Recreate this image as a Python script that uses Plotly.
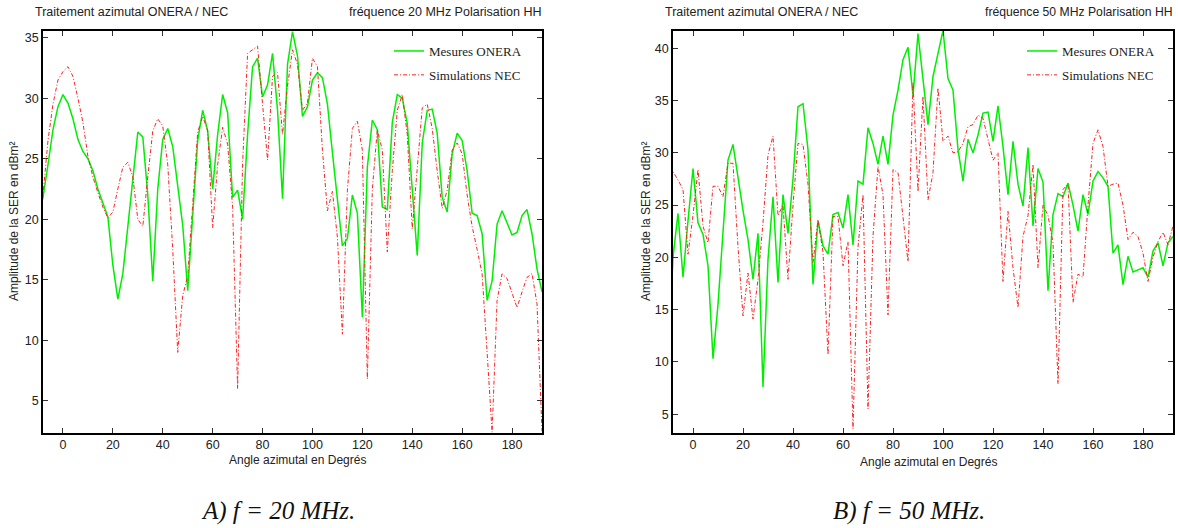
import plotly.graph_objects as go

# ---------------- data ----------------
ang_20 = list(range(-10, 194, 2))

# 20 MHz
onera_20 = [20.0, 21.8, 24.5, 27.4, 29.3, 30.3, 29.6, 28.3, 26.6, 25.6,
            25.0, 24.0, 22.5, 21.3, 20.2, 16.2, 13.4, 15.5, 19.5, 23.5,
            27.2, 26.8, 22.0, 14.9, 22.5, 26.6, 27.5, 26.0, 22.6, 19.5,
            14.1, 20.5, 26.5, 29.0, 27.3, 22.5, 27.0, 30.3, 28.8, 21.8,
            22.4, 20.0, 27.0, 32.6, 33.3, 30.1, 31.1, 33.7, 29.0, 21.7,
            32.8, 35.5, 33.5, 28.5, 29.3, 31.5, 32.1, 31.7, 29.5, 25.5,
            21.5, 17.8, 18.4, 22.0, 20.5, 11.9, 24.3, 28.2, 27.4, 21.0,
            20.8, 28.0, 30.3, 30.0, 27.9, 22.5, 17.0, 26.3, 29.0, 29.1,
            27.1, 21.8, 20.6, 25.4, 27.1, 26.5, 24.0, 20.5, 20.3, 18.8,
            13.3, 14.9, 19.6, 20.7, 19.7, 18.7, 18.9, 20.3, 20.8, 18.8,
            15.9, 14.0]
nec_20 = [19.5, 22.0, 26.5, 29.5, 31.5, 32.2, 32.6, 31.8, 30.0, 28.0,
          25.2, 23.5, 22.2, 21.0, 20.1, 20.6, 22.5, 24.3, 24.7, 23.5,
          20.0, 19.4, 23.5, 27.3, 28.3, 27.7, 24.5, 17.5, 9.0, 13.7,
          15.3, 21.5, 27.2, 28.5, 27.3, 19.3, 24.5, 27.6, 26.2, 21.0,
          6.0, 24.6, 33.7, 34.0, 34.3, 29.5, 24.9, 31.8, 32.1, 27.0,
          31.0, 34.0, 32.8, 29.0, 29.6, 33.3, 32.6, 25.7, 20.7, 22.3,
          18.5, 10.5, 22.4, 27.5, 28.1, 25.7, 6.8, 22.5, 27.4, 25.7,
          17.3, 24.0, 29.0, 30.3, 27.0, 19.2, 24.3, 29.2, 29.5, 27.5,
          24.0, 20.9, 22.4, 25.7, 26.3, 25.4, 22.0, 19.4, 17.5, 15.5,
          9.0, 2.4, 13.3, 15.5, 15.1, 13.8, 12.7, 14.0, 15.2, 15.5,
          13.0, 2.5]

# 50 MHz
onera_50 = [9.9, 20.0, 24.2, 18.1, 23.5, 28.5, 23.3, 22.2, 19.2, 10.3,
            15.5, 22.0, 29.3, 30.8, 27.5, 24.5, 21.7, 17.9, 22.3, 7.6,
            19.8, 25.8, 17.6, 26.0, 22.3, 27.5, 34.4, 34.7, 30.3, 17.4,
            23.5, 21.1, 20.3, 24.1, 24.3, 22.8, 26.0, 21.2, 27.3, 27.0,
            32.4, 30.9, 28.9, 31.6, 28.9, 33.6, 36.0, 38.9, 40.1, 35.5,
            41.4, 36.7, 32.7, 37.3, 39.5, 41.7, 37.1, 36.0, 30.3, 27.3,
            31.3, 30.0, 31.7, 33.8, 33.9, 31.1, 34.5, 30.6, 26.0, 31.1,
            27.0, 24.9, 30.5, 23.0, 28.5, 27.2, 16.8, 24.1, 26.1, 25.8,
            27.1, 25.0, 22.5, 26.0, 24.1, 27.3, 28.2, 27.6, 26.8, 20.4,
            21.2, 17.4, 20.1, 18.6, 18.8, 19.0, 18.1, 20.6, 21.4, 19.2,
            21.4, 22.0]
nec_50 = [28.5, 28.2, 27.4, 26.5, 20.3, 24.0, 28.4, 23.0, 21.4, 26.8,
          26.8, 25.8, 29.0, 29.0, 21.0, 14.4, 18.5, 14.1, 17.9, 23.3,
          29.8, 31.6, 24.0, 25.0, 17.9, 25.0, 30.9, 30.8, 27.0, 19.5,
          23.6, 20.5, 10.7, 23.9, 23.9, 19.2, 21.5, 3.6, 21.0, 26.0,
          5.5, 22.0, 28.7, 26.0, 14.5, 28.4, 28.1, 24.0, 19.6, 36.7,
          26.3, 35.4, 25.5, 28.1, 36.2, 31.1, 31.6, 30.0, 30.1, 30.9,
          32.5, 32.7, 33.6, 33.3, 31.2, 29.3, 30.0, 17.7, 24.4, 19.0,
          15.2, 22.0, 24.0, 28.9, 19.0, 25.0, 24.0, 21.4, 7.9, 26.5,
          27.0, 15.7, 18.4, 18.1, 25.0, 30.9, 32.2, 30.6, 26.8, 27.0,
          27.1, 25.0, 21.7, 22.4, 22.0, 20.4, 17.7, 20.0, 21.5, 22.4,
          21.2, 23.0]

x_ticks = [0, 20, 40, 60, 80, 100, 120, 140, 160, 180]
y_ticks_20 = [5, 10, 15, 20, 25, 30, 35]
y_ticks_50 = [5, 10, 15, 20, 25, 30, 35, 40]

names = ["Mesures ONERA", "Simulations NEC"]
title_left = "Traitement azimutal ONERA / NEC"
title_right_20 = "fréquence 20 MHz Polarisation HH"
title_right_50 = "fréquence 50 MHz Polarisation HH"
y_title = "Amplitude de la SER en dBm²"
x_title = "Angle azimutal en Degrés"
captions = ["A) f = 20 MHz.", "B) f = 50 MHz."]

# ---------------- layout helpers ----------------
W, H = 1178, 528
def px(x):
    return x / W
def py(y):
    return 1 - y / H

GREEN = "#00ee00"
RED = "#ff2020"
SANS = "Liberation Sans, Arial, sans-serif"
SERIF = "Liberation Serif, Times New Roman, serif"
DASH = "4px,2px,1px,2px"

fig = go.Figure()

fig.add_trace(go.Scatter(x=ang_20, y=onera_20, mode="lines", name=names[0],
                         line=dict(color=GREEN, width=1.5), xaxis="x", yaxis="y",
                         legend="legend", legendgroup="a1"))
fig.add_trace(go.Scatter(x=ang_20, y=nec_20, mode="lines", name=names[1],
                         line=dict(color=RED, width=1, dash=DASH),
                         xaxis="x", yaxis="y", legend="legend", legendgroup="a2"))
fig.add_trace(go.Scatter(x=ang_20, y=onera_50, mode="lines", name=names[0],
                         line=dict(color=GREEN, width=1.5), xaxis="x2", yaxis="y2",
                         legend="legend2", legendgroup="b1"))
fig.add_trace(go.Scatter(x=ang_20, y=nec_50, mode="lines", name=names[1],
                         line=dict(color=RED, width=1, dash=DASH),
                         xaxis="x2", yaxis="y2", legend="legend2", legendgroup="b2"))

ax_common = dict(showline=True, linecolor="black", linewidth=1.5, mirror="ticks",
                 ticks="inside", ticklen=5, tickwidth=1.2, tickcolor="#333",
                 showgrid=False, zeroline=False,
                 tickfont=dict(family=SANS, size=12.5, color="#222"))

y_top, y_bot = 31, 432.5
legend_font = dict(family=SERIF, size=13, color="#222")
fig.update_layout(
    width=W, height=H, margin=dict(l=0, r=0, t=0, b=0),
    paper_bgcolor="white", plot_bgcolor="white", showlegend=True,
    xaxis=dict(domain=[px(43), px(542)], range=[-8, 192], tickvals=x_ticks,
               anchor="y", **ax_common),
    yaxis=dict(domain=[py(y_bot), py(y_top)], range=[2.38, 35.55], tickvals=y_ticks_20,
               anchor="x", **ax_common),
    xaxis2=dict(domain=[px(673), px(1173)], range=[-8, 192], tickvals=x_ticks,
                anchor="y2", **ax_common),
    yaxis2=dict(domain=[py(y_bot), py(y_top)], range=[3.25, 41.65], tickvals=y_ticks_50,
                anchor="x2", **ax_common),
    legend=dict(x=px(389), y=py(36), xanchor="left", yanchor="top",
                bgcolor="rgba(0,0,0,0)", font=legend_font,
                itemwidth=30, tracegroupgap=4),
    legend2=dict(x=px(1022), y=py(36), xanchor="left", yanchor="top",
                 bgcolor="rgba(0,0,0,0)", font=legend_font,
                 itemwidth=30, tracegroupgap=4),
)

ann = []
def txt(x, y, s, xanchor="center", size=12.5, family=SANS, angle=0, color="#222"):
    ann.append(dict(x=px(x), y=py(y), xref="paper", yref="paper", text=s,
                    showarrow=False, xanchor=xanchor, yanchor="middle", textangle=angle,
                    font=dict(family=family, size=size, color=color)))

txt(33, 12, title_left, xanchor="left")
txt(543, 12, title_right_20, xanchor="right")
txt(663, 12, title_left, xanchor="left")
txt(1175, 12, title_right_50, xanchor="right", size=12.2)
txt(14, 222, y_title, angle=-90, size=12)
txt(646, 222, y_title, angle=-90, size=12)
txt(297, 460, x_title, size=12)
txt(928, 462, x_title, size=12)
txt(278, 511, "<i>" + captions[0] + "</i>", size=25, family=SERIF, color="#111")
txt(909, 511, "<i>" + captions[1] + "</i>", size=25, family=SERIF, color="#111")
fig.update_layout(annotations=ann)

fig.write_html("out.html", config={"displayModeBar": False},
               post_script="document.body.style.margin='0';document.body.style.overflow='hidden';")
